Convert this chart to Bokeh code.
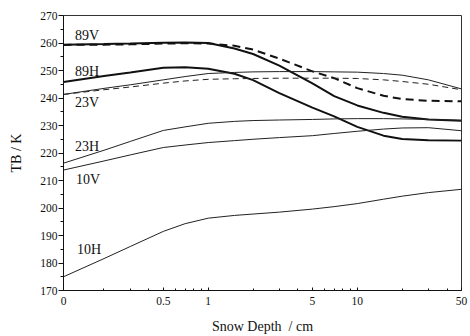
from bokeh.plotting import figure
from bokeh.models import Range1d, FixedTicker, Label
from bokeh.embed import file_html
from bokeh.resources import INLINE

FONT = "Liberation Serif"
ZERO_AT = 0.107  # where the "0" depth sits on the log axis

# ---- data ----
depth = [0, 0.2, 0.3, 0.5, 0.7, 1, 1.5, 2, 3, 5, 7, 10, 15, 20, 30, 50]

tb_89v = [259.4, 259.6, 259.8, 260.1, 260.2, 260.0, 258.0, 256.0, 251.8, 245.3, 240.7, 237.3, 234.6, 233.2, 232.2, 231.7]
tb_89v_dash = [259.3, 259.4, 259.5, 259.8, 259.9, 259.8, 259.0, 257.6, 254.3, 249.7, 247.2, 243.6, 240.8, 239.6, 239.0, 238.8]
tb_89h = [245.8, 248.0, 249.3, 251.0, 251.2, 250.6, 248.8, 246.5, 241.8, 236.5, 233.3, 229.5, 226.3, 225.1, 224.6, 224.5]
tb_23v = [241.3, 243.5, 244.8, 246.6, 247.8, 248.9, 249.3, 249.5, 249.6, 249.6, 249.5, 249.4, 248.9, 248.3, 246.6, 243.3]
tb_23v_dash = [241.3, 243.0, 244.0, 245.4, 246.2, 246.8, 247.0, 247.1, 247.2, 247.2, 247.2, 247.1, 246.6, 246.0, 245.0, 243.0]
tb_23h = [216.3, 221.0, 224.2, 228.2, 229.5, 230.8, 231.5, 231.8, 232.0, 232.2, 232.4, 232.5, 232.5, 232.4, 232.2, 231.9]
tb_10v = [213.8, 217.1, 219.3, 222.0, 222.9, 223.8, 224.5, 225.0, 225.6, 226.3, 227.1, 227.9, 228.7, 229.1, 229.2, 228.1]
tb_10h = [175.0, 181.6, 186.0, 191.5, 194.3, 196.3, 197.3, 197.8, 198.5, 199.6, 200.5, 201.6, 203.2, 204.3, 205.6, 206.8]

x_major_ticks = [0, 0.5, 1, 5, 10, 50]
x_minor_ticks = [0.2, 0.3, 0.4, 0.6, 0.7, 0.8, 0.9, 2, 3, 4, 6, 7, 8, 9, 20, 30, 40]
y_major_ticks = [170, 180, 190, 200, 210, 220, 230, 240, 250, 260, 270]
y_minor_ticks = [175, 185, 195, 205, 215, 225, 235, 245, 255, 265]

label_names = ["89V", "89H", "23V", "23H", "10V", "10H"]
label_depth = [0.128, 0.128, 0.128, 0.128, 0.130, 0.132]
label_tb = [262.9, 249.7, 238.4, 222.5, 210.4, 184.9]


def pos(d):
    return ZERO_AT if d == 0 else d


xs = [pos(d) for d in depth]

p = figure(width=470, height=336, x_axis_type="log",
           x_range=Range1d(ZERO_AT, 50), y_range=Range1d(170, 270),
           output_backend="svg", toolbar_location=None,
           min_border_left=63, min_border_right=9, min_border_top=15, min_border_bottom=45)

p.xgrid.visible = False
p.ygrid.visible = False
p.outline_line_color = "#333333"
p.outline_line_width = 1
p.background_fill_color = "white"
p.border_fill_color = "white"

# series
p.line(xs, tb_89v, line_color="#111111", line_width=2)
p.line(xs, tb_89v_dash, line_color="#111111", line_width=2, line_dash="8 5")
p.line(xs, tb_89h, line_color="#111111", line_width=2)
p.line(xs, tb_23v, line_color="#222222", line_width=1)
p.line(xs, tb_23v_dash, line_color="#222222", line_width=1, line_dash="6 4")
p.line(xs, tb_23h, line_color="#222222", line_width=1)
p.line(xs, tb_10v, line_color="#222222", line_width=1)
p.line(xs, tb_10h, line_color="#222222", line_width=1)

for name, lx, ly in zip(label_names, label_depth, label_tb):
    p.add_layout(Label(x=lx, y=ly, text=name, text_align="left", text_baseline="middle",
                       text_font=FONT, text_font_size="14px", text_color="#111111"))

xa = p.xaxis[0]
xa.ticker = FixedTicker(ticks=[pos(t) for t in x_major_ticks], minor_ticks=x_minor_ticks)
xa.major_label_overrides = {pos(t): str(t) for t in x_major_ticks}
xa.major_tick_in = 3
xa.major_tick_out = 0
xa.minor_tick_in = 2
xa.minor_tick_out = 0
xa.axis_line_color = "#111111"
xa.major_tick_line_color = "#111111"
xa.minor_tick_line_color = "#111111"
xa.major_label_text_font = FONT
xa.major_label_text_font_size = "11.5px"
xa.major_label_text_color = "#111111"
xa.major_label_standoff = 6
xa.axis_label = "Snow Depth\u00a0 / cm"
xa.axis_label_text_font = FONT
xa.axis_label_text_font_size = "14px"
xa.axis_label_text_font_style = "normal"
xa.axis_label_text_color = "#111111"
xa.axis_label_standoff = 11

ya = p.yaxis[0]
ya.ticker = FixedTicker(ticks=y_major_ticks, minor_ticks=y_minor_ticks)
ya.major_tick_in = 0
ya.major_tick_out = 5
ya.minor_tick_in = 0
ya.minor_tick_out = 3
ya.axis_line_color = "#111111"
ya.major_tick_line_color = "#111111"
ya.minor_tick_line_color = "#111111"
ya.major_label_text_font = FONT
ya.major_label_text_font_size = "11.5px"
ya.major_label_text_color = "#111111"
ya.major_label_standoff = 1
ya.axis_label = "TB / K"
ya.axis_label_text_font = FONT
ya.axis_label_text_font_size = "14px"
ya.axis_label_text_font_style = "normal"
ya.axis_label_text_color = "#111111"
ya.axis_label_standoff = 13

open("out.html", "w").write(file_html(p, INLINE))
